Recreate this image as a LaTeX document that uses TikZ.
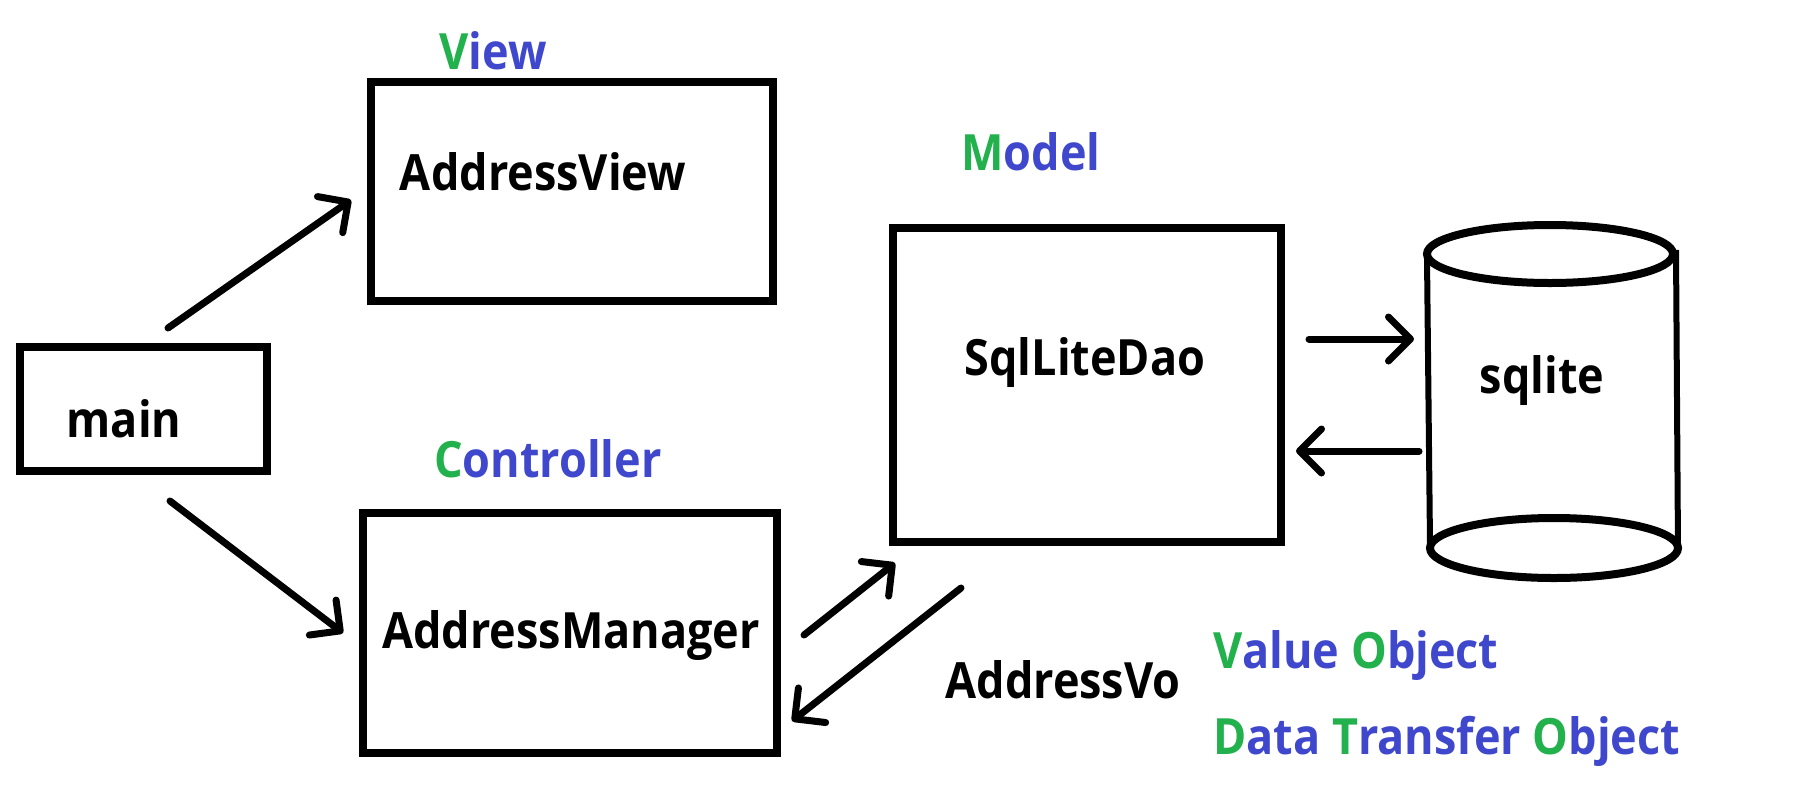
\documentclass[tikz,border=0pt]{standalone}
\usepackage{fontspec}
\setmainfont[FakeStretch=0.9]{Open Sans}
\usetikzlibrary{arrows.meta}
\definecolor{pgreen}{RGB}{34,177,76}
\definecolor{pblue}{RGB}{63,72,204}
\begin{document}
\begin{tikzpicture}[x=1pt,y=-1pt,
  box/.style={draw, line width=8pt, inner sep=0pt},
  lbl/.style={font=\fontsize{50}{55}\selectfont\bfseries, inner sep=0pt},
  arr/.style={line width=7pt, line cap=round, line join=round,
    -{Straight Barb[length=22pt,width=44pt,line cap=round,line join=round]}}]
\useasboundingbox (0,0) rectangle (1794,801);
% boxes
\node[box, minimum width=402pt, minimum height=219pt] (viewbox) at (572,191.5) {};
\node[box, minimum width=247pt, minimum height=124pt] (mainbox) at (143.5,409) {};
\node[box, minimum width=414pt, minimum height=240pt] (mgrbox) at (570,633) {};
\node[box, minimum width=388pt, minimum height=314pt] (daobox) at (1087,385) {};
% cylinder
\draw[line width=8pt] (1550,254) ellipse [x radius=123, y radius=29];
\draw[line width=8pt] (1554,548) ellipse [x radius=124, y radius=30];
\draw[line width=6pt] (1427,258) -- (1430,544);
\draw[line width=6pt] (1676,250) -- (1678,550);
% texts
\node[lbl] (viewtxt) at (543,172) {AddressView};
\node[lbl] (maintxt) at (124,419) {main};
\node[lbl] (mgrtxt) at (571,636) {AddressManager};
\node[lbl] (daotxt) at (1085,363) {SqlLiteDao};
\node[lbl] (db) at (1542,381) {sqlite};
\node[lbl] (vo) at (1063,680) {AddressVo};
\node[lbl, text=pblue] (vlbl) at (493,51) {\textcolor{pgreen}{V}iew};
\node[lbl, text=pblue] (mlbl) at (1031,152) {\textcolor{pgreen}{M}odel};
\node[lbl, text=pblue] (clbl) at (548,459) {\textcolor{pgreen}{C}ontroller};
\node[lbl, text=pblue, anchor=west] (valobj) at (1213,656) {\textcolor{pgreen}{V}alue \textcolor{pgreen}{O}bject};
\node[lbl, text=pblue, anchor=west] (dto) at (1213,741) {\textcolor{pgreen}{D}ata \textcolor{pgreen}{T}ransfer \textcolor{pgreen}{O}bject};
% arrow end points
\coordinate (a1) at (168,328); \coordinate (a2) at (351,200);
\coordinate (b1) at (170,501); \coordinate (b2) at (343,633);
\coordinate (c1) at (804,635); \coordinate (c2) at (895,563);
\coordinate (d1) at (961,588); \coordinate (d2) at (792,721);
\coordinate (e1) at (1309,339); \coordinate (e2) at (1414,339);
\coordinate (f1) at (1419,451); \coordinate (f2) at (1296,451);
\draw[arr] (a1) -- (a2);
\draw[arr] (b1) -- (b2);
\draw[arr] (c1) -- (c2);
\draw[arr] (d1) -- (d2);
\draw[arr] (e1) -- (e2);
\draw[arr] (f1) -- (f2);
\end{tikzpicture}
\end{document}
